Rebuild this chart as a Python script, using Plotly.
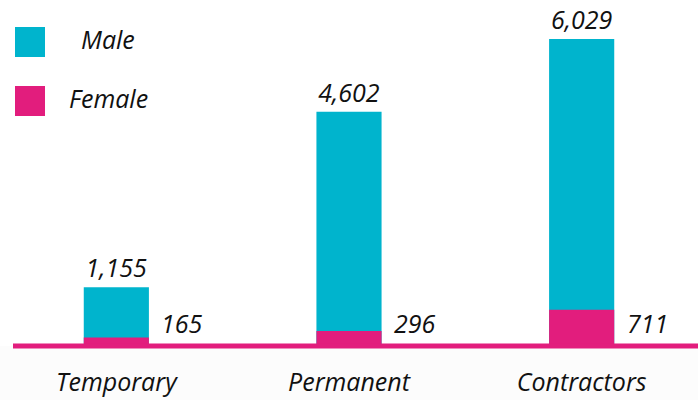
import plotly.graph_objects as go

# Workforce headcount by employment type
categories = ["Temporary", "Permanent", "Contractors"]
male = [1155, 4602, 6029]
female = [165, 296, 711]

CYAN = "#00b4cd"
MAGENTA = "#e21d7d"
FONT = dict(family="Open Sans, DejaVu Sans, sans-serif", color="#111111", style="italic")
FS = 25

W, H = 698, 400
M_TOP, M_BOT = 10, 54

fig = go.Figure()

fig.add_trace(go.Bar(
    x=categories, y=male, name="Male",
    marker=dict(color=CYAN, line=dict(width=0)),
    texttemplate="%{y:,}", textposition="outside", constraintext="none",
    textfont=dict(size=FS, **FONT), cliponaxis=False,
))
fig.add_trace(go.Bar(
    x=categories, y=female, name="Female",
    marker=dict(color=MAGENTA, line=dict(width=0)),
    textposition="none",
))

# Female values written just right of each bar, on the baseline
for cat, val in zip(categories, female):
    fig.add_annotation(
        x=cat, y=0, xref="x", yref="y", text=f"{val:,}",
        showarrow=False, xanchor="center", yanchor="bottom",
        xshift=66, yshift=4, font=dict(size=FS, **FONT),
    )

# Light band under the baseline
fig.add_shape(type="rect", xref="paper", yref="paper",
              x0=0, x1=1, y0=-1, y1=0, fillcolor="#fcfcfc",
              line=dict(width=0), layer="below")
# Baseline
fig.add_shape(type="line", xref="paper", yref="paper",
              x0=13 / W, x1=1, y0=0, y1=0,
              line=dict(color=MAGENTA, width=5), layer="above")

# Custom legend with large swatches
plot_h = H - M_TOP - M_BOT
def py(pix):
    return (H - M_BOT - pix) / plot_h

legend_items = [("Male", CYAN, 27, 57), ("Female", MAGENTA, 86, 116)]
for label, color, top, bot in legend_items:
    fig.add_shape(type="rect", xref="paper", yref="paper",
                  x0=15 / W, x1=45 / W, y0=py(bot), y1=py(top),
                  fillcolor=color, line=dict(width=0))
    fig.add_annotation(x=108 / W, y=py((top + bot) / 2 - 3), xref="paper", yref="paper",
                       text=label, showarrow=False, xanchor="center", yanchor="middle",
                       font=dict(size=FS, **FONT))

fig.update_layout(
    width=W, height=H,
    margin=dict(l=0, r=0, t=M_TOP, b=M_BOT),
    barmode="overlay", bargap=0.72,
    showlegend=False,
    paper_bgcolor="white", plot_bgcolor="rgba(0,0,0,0)",
    xaxis=dict(showgrid=False, zeroline=False, showline=False, ticks="",
               ticklabelstandoff=19,
               tickfont=dict(size=FS, **FONT)),
    yaxis=dict(range=[0, 6600], visible=False, showgrid=False, zeroline=False),
)

fig.write_html("out.html")
